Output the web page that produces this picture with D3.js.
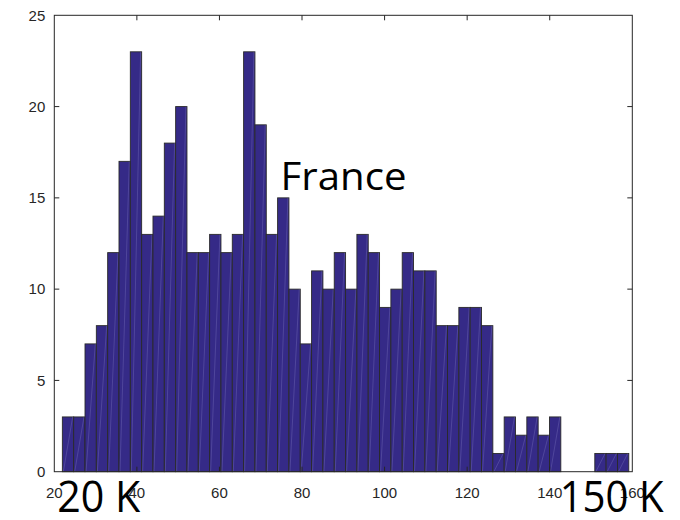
<!DOCTYPE html>
<html>
<head>
<meta charset="utf-8">
<script src="https://cdn.jsdelivr.net/npm/d3@7"></script>
<style>
  body { margin: 0; background: #fff; }
  svg { display: block; }
</style>
</head>
<body>
<div id="chart"></div>
<script>
// histogram counts, one per bin
var counts = [3, 3, 7, 8, 12, 17, 23, 13, 14, 18, 20, 12, 12, 13, 12, 13, 23, 19, 13, 15,
  10, 7, 11, 10, 12, 10, 13, 12, 9, 10, 12, 11, 11, 8, 8, 9, 9, 8, 1, 3,
  2, 3, 2, 3, 0, 0, 0, 1, 1, 1];
var binStart = 21.95,
  binWidth = 2.744;

var xTicks = [20, 40, 60, 80, 100, 120, 140, 160];
var yTicks = [0, 5, 10, 15, 20, 25];

// annotation texts, anchored in data units
var labelText = ["France", "20 K", "150 K"];
var labelX = [74.8, 20.7, 142.4];
var labelY = [15.45, -2.2, -2.2];

var W = 680, H = 520;
var margin = { top: 15.3, right: 47.7, bottom: 48.3, left: 54.3 },
  width = W - margin.left - margin.right,
  height = H - margin.top - margin.bottom;

var svg = d3.select("#chart").append("svg")
  .attr("width", W)
  .attr("height", H);

var g = svg.append("g")
  .attr("transform", "translate(" + margin.left + "," + margin.top + ")");

var x = d3.scaleLinear().domain([20, 160]).range([0, width]);
var y = d3.scaleLinear().domain([0, 25]).range([height, 0]);

var bins = counts.map(function (c, i) {
  return { x0: binStart + i * binWidth, x1: binStart + (i + 1) * binWidth, n: c };
});

// bars
var bar = g.append("g").selectAll("g")
  .data(bins.filter(function (d) { return d.n > 0; }))
  .join("g");

bar.append("rect")
  .attr("x", function (d) { return x(d.x0); })
  .attr("y", function (d) { return y(d.n); })
  .attr("width", function (d) { return x(d.x1) - x(d.x0); })
  .attr("height", function (d) { return y(0) - y(d.n); })
  .attr("fill", "#352a87")
  .attr("stroke", "#2a2a2a")
  .attr("stroke-width", 0.9);

// faint rendering seam across each bar
bar.append("line")
  .attr("x1", function (d) { return x(d.x0) + 1; })
  .attr("y1", y(0))
  .attr("x2", function (d) { return x(d.x1) - 1; })
  .attr("y2", function (d) { return y(d.n); })
  .attr("stroke", "#8a82c8")
  .attr("stroke-opacity", 0.45)
  .attr("stroke-width", 0.7);

// axes box, ticks inward on all sides
var tickLen = 5;
var axisColor = "#262626";
var fontTick = "'Liberation Sans', Arial, sans-serif";

g.append("rect")
  .attr("width", width)
  .attr("height", height)
  .attr("fill", "none")
  .attr("stroke", axisColor)
  .attr("stroke-width", 1);

var ax = g.append("g").attr("stroke", axisColor).attr("stroke-width", 1);
xTicks.slice(1, -1).forEach(function (t) {
  ax.append("line").attr("x1", x(t)).attr("x2", x(t)).attr("y1", height).attr("y2", height - tickLen);
  ax.append("line").attr("x1", x(t)).attr("x2", x(t)).attr("y1", 0).attr("y2", tickLen);
});
yTicks.slice(1, -1).forEach(function (t) {
  ax.append("line").attr("x1", 0).attr("x2", tickLen).attr("y1", y(t)).attr("y2", y(t));
  ax.append("line").attr("x1", width).attr("x2", width - tickLen).attr("y1", y(t)).attr("y2", y(t));
});

g.append("g").selectAll("text")
  .data(xTicks)
  .join("text")
  .attr("x", function (d) { return x(d); })
  .attr("y", height + 26.5)
  .attr("text-anchor", "middle")
  .attr("font-family", fontTick)
  .attr("font-size", 15)
  .attr("fill", axisColor)
  .text(function (d) { return d; });

g.append("g").selectAll("text")
  .data(yTicks)
  .join("text")
  .attr("x", -9)
  .attr("y", function (d) { return y(d) + 5.3; })
  .attr("text-anchor", "end")
  .attr("font-family", fontTick)
  .attr("font-size", 15)
  .attr("fill", axisColor)
  .text(function (d) { return d; });

// annotations (drawn over the tick labels, as in the original)
var labelSize = { "France": 39, "20 K": 44, "150 K": 44 };
var labelLen = { "France": 126, "20 K": 83, "150 K": 104 };

g.append("g").selectAll("text")
  .data(labelText)
  .join("text")
  .attr("x", function (d, i) { return x(labelX[i]); })
  .attr("y", function (d, i) { return y(labelY[i]); })
  .attr("font-family", "'Open Sans', 'Noto Sans', sans-serif")
  .attr("font-size", function (d) { return labelSize[d]; })
  .attr("textLength", function (d) { return labelLen[d]; })
  .attr("lengthAdjust", "spacingAndGlyphs")
  .attr("fill", "#000")
  .text(function (d) { return d; });
</script>
</body>
</html>
